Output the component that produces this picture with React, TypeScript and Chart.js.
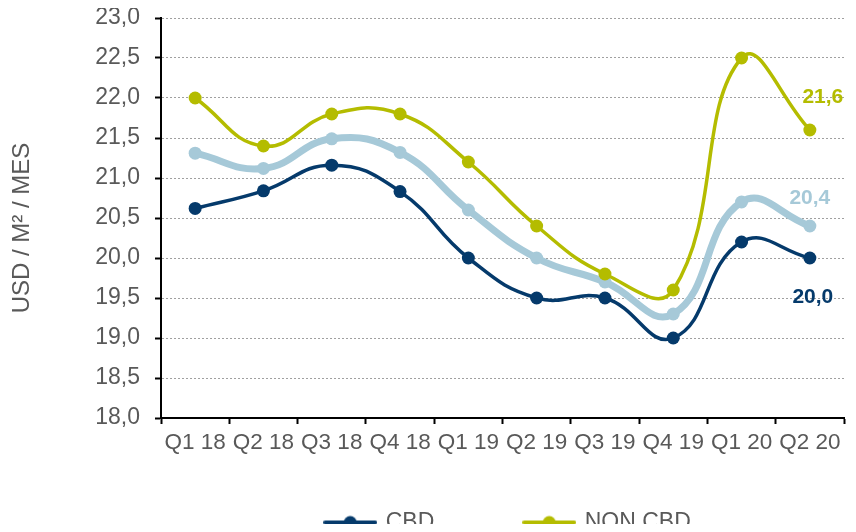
import React, { useEffect, useRef } from "react";
import { Chart, registerables } from "chart.js";

Chart.register(...registerables);

const categories = ["Q1 18", "Q2 18", "Q3 18", "Q4 18", "Q1 19", "Q2 19", "Q3 19", "Q4 19", "Q1 20", "Q2 20"];
const cbdValues = [20.62, 20.84, 21.16, 20.83, 20.0, 19.5, 19.5, 19.0, 20.2, 20.0];
const nonCbdValues = [22.0, 21.4, 21.8, 21.8, 21.2, 20.4, 19.8, 19.6, 22.5, 21.6];
const averageValues = [21.31, 21.12, 21.49, 21.32, 20.6, 20.0, 19.7, 19.3, 20.7, 20.4];
const seriesNames = ["CBD", "NON CBD", "PROMEDIO"];
const yTitle = "USD / M² / MES";
const yMin = 18;
const yMax = 23;
const yStep = 0.5;

const FONT = '"Liberation Sans", Arial, sans-serif';
const NAVY = "#053A6B";
const OLIVE = "#B4BC00";
const LIGHT = "#A6C9D8";
const GRAY = "#595959";

const fmt = (v: number) => Number(v).toFixed(1).replace(".", ",");

function legendMarker(color: string): HTMLCanvasElement {
  const c = document.createElement("canvas");
  c.width = 54;
  c.height = 16;
  const g = c.getContext("2d")!;
  g.strokeStyle = color;
  g.lineWidth = 4;
  g.lineCap = "round";
  g.beginPath();
  g.moveTo(2, 8);
  g.lineTo(52, 8);
  g.stroke();
  g.fillStyle = color;
  g.beginPath();
  g.arc(27, 8, 6.5, 0, Math.PI * 2);
  g.fill();
  return c;
}

// value labels beside the last point of each series
const endLabelPlugin = {
  id: "endLabels",
  afterDatasetsDraw(chart: any) {
    const conf = [
      { ds: 1, dx: 13, dy: -32.5, color: OLIVE },
      { ds: 2, dx: 0, dy: -27.5, color: LIGHT },
      { ds: 0, dx: 3, dy: 39, color: NAVY },
    ];
    const ctx = chart.ctx;
    ctx.save();
    ctx.font = `bold 21px ${FONT}`;
    ctx.textAlign = "center";
    ctx.textBaseline = "middle";
    conf.forEach((c) => {
      const meta = chart.getDatasetMeta(c.ds);
      const data = chart.data.datasets[c.ds].data as number[];
      const last = data.length - 1;
      const pt = meta.data[last];
      ctx.fillStyle = c.color;
      ctx.fillText(fmt(data[last]), pt.x + c.dx, pt.y + c.dy);
    });
    ctx.restore();
  },
};

// nudge the legend box to its place under the axis labels
const legendPlacePlugin = {
  id: "legendPlace",
  afterLayout(chart: any) {
    const lg = chart.legend;
    if (!lg) return;
    lg.top -= 38;
    lg.bottom -= 38;
    lg.left += 6;
    lg.right += 6;
  },
};

export default function App() {
  const ref = useRef<HTMLCanvasElement>(null);

  useEffect(() => {
    if (!ref.current) return;
    const markers = [legendMarker(NAVY), legendMarker(OLIVE), legendMarker(LIGHT)];
    const mk = (label: string, data: number[], color: string, width: number, order: number) => ({
      label,
      data,
      borderColor: color,
      backgroundColor: color,
      borderWidth: width,
      pointRadius: 6.5,
      pointHoverRadius: 6.5,
      pointBackgroundColor: color,
      pointBorderWidth: 0,
      tension: 0.45,
      fill: false,
      clip: false as any,
      order,
    });
    const chart = new Chart(ref.current, {
      type: "line",
      data: {
        labels: categories,
        datasets: [
          mk(seriesNames[0], cbdValues, NAVY, 3.5, 0),
          mk(seriesNames[1], nonCbdValues, OLIVE, 3.5, 1),
          mk(seriesNames[2], averageValues, LIGHT, 7, 2),
        ],
      },
      options: {
        responsive: false,
        animation: false,
        devicePixelRatio: 1,
        layout: { padding: { top: 10, right: 4, left: 0, bottom: 0 }, autoPadding: false },
        plugins: {
          tooltip: { enabled: false },
          legend: {
            display: true,
            position: "bottom",
            fullSize: false,
            labels: {
              usePointStyle: true,
              pointStyleWidth: 48,
              padding: 91,
              color: GRAY,
              font: { family: FONT, size: 23 },
              filter: (item: any) => item.datasetIndex !== 2,
              generateLabels: (c: any) => {
                const items = (Chart.defaults.plugins.legend.labels as any).generateLabels(c);
                return items.map((it: any) => ({ ...it, pointStyle: markers[it.datasetIndex] }));
              },
            },
          },
        },
        scales: {
          x: {
            type: "category",
            offset: true,
            grid: {
              display: true,
              drawOnChartArea: false,
              drawTicks: true,
              tickLength: 6,
              tickColor: "#000",
              tickWidth: 2,
              offset: true,
            },
            border: { display: true, color: "#000", width: 2 },
            ticks: {
              font: { family: FONT, size: 22.5 },
              color: GRAY,
              padding: 5,
              maxRotation: 0,
              minRotation: 0,
              autoSkip: false,
            },
            afterFit: (s: any) => {
              s.height = 40;
            },
          },
          y: {
            min: yMin,
            max: yMax,
            ticks: {
              stepSize: yStep,
              callback: (v: any) => fmt(v),
              font: { family: FONT, size: 23 },
              color: GRAY,
              padding: 15,
            },
            grid: {
              color: "#A0A0A0",
              lineWidth: 1,
              tickLength: 6,
              tickColor: "#000",
              tickWidth: 2,
              tickBorderDash: [],
            },
            border: { display: true, color: "#000", width: 2, dash: [2, 2] },
            title: {
              display: true,
              text: yTitle + "   ",
              font: { family: FONT, size: 24 },
              color: GRAY,
              padding: { top: 0, bottom: 0 },
            },
            afterFit: (s: any) => {
              s.width = 153;
              s.paddingTop = 0;
              s.paddingBottom = 0;
            },
          },
        },
      },
      plugins: [endLabelPlugin, legendPlacePlugin],
    } as any);
    return () => chart.destroy();
  }, []);

  return (
    <div style={{ width: 840, height: 524, overflow: "hidden", marginBottom: -8 }}>
      <canvas ref={ref} width={840} height={574} style={{ display: "block" }} />
    </div>
  );
}
